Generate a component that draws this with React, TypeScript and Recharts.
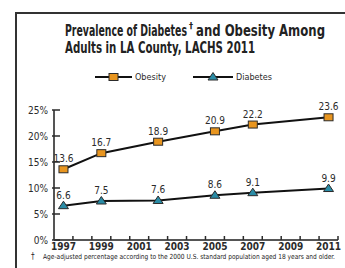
import React from "react";
import { LineChart, Line, XAxis, YAxis, LabelList, Legend } from "recharts";

const years = [1997, 1999, 2002, 2005, 2007, 2011];
const obesity = [13.6, 16.7, 18.9, 20.9, 22.2, 23.6];
const diabetes = [6.6, 7.5, 7.6, 8.6, 9.1, 9.9];
const yearLabels = [1997, 1999, 2001, 2003, 2005, 2007, 2009, 2011];
const yTicks = [0, 5, 10, 15, 20, 25];

const data = years.map((year, i) => ({ year, obesity: obesity[i], diabetes: diabetes[i] }));

// small inner tick marks sit between the years
const boundaries = Array.from({ length: 2011 - 1997 + 1 }, (_, i) => 1997.5 + i);
const xTicks = [...yearLabels, ...boundaries].sort((a, b) => a - b);

const FONT = "'Liberation Sans Narrow', 'DejaVu Sans Condensed', 'Arial Narrow', sans-serif";
const INK = "#2b2b2b";
const ORANGE = "#E8951F";
const TEAL = "#2A8CA6";

const XTick = (props: any) => {
  const { x, y, payload } = props;
  const v = payload.value;
  if (v % 1 !== 0) {
    return <line x1={x} x2={x} y1={y} y2={y - 4} stroke={INK} strokeWidth={1.5} />;
  }
  return (
    <text x={x} y={y + 10} textAnchor="middle" fontSize={10} fontFamily={FONT} fontWeight="bold" fill={INK}>
      {v}
    </text>
  );
};

const YTick = (props: any) => {
  const { x, y, payload } = props;
  return (
    <g>
      <line x1={x - 2} x2={x + 6} y1={y} y2={y} stroke={INK} strokeWidth={1.5} />
      <text x={x - 6} y={y + 3.5} textAnchor="end" fontSize={10} fontFamily={FONT} fill={INK}>
        {payload.value}%
      </text>
    </g>
  );
};

const SquareDot = (props: any) => {
  const { cx, cy } = props;
  return <rect x={cx - 4.5} y={cy - 3.5} width={9} height={7} fill={ORANGE} stroke={INK} strokeWidth={1} />;
};

const TriDot = (props: any) => {
  const { cx, cy } = props;
  return (
    <path d={`M${cx},${cy - 4.5} L${cx + 5},${cy + 3} L${cx - 5},${cy + 3} Z`} fill={TEAL} stroke={INK} strokeWidth={1} />
  );
};

const LegendBox = () => (
  <svg width={200} height={14}>
    <line x1={0} x2={37} y1={7} y2={7} stroke="#111" strokeWidth={2} />
    <rect x={14} y={3.5} width={9} height={7} fill={ORANGE} stroke={INK} />
    <text x={40} y={10} fontSize={9} fontFamily={FONT} fill={INK}>Obesity</text>
    <line x1={98} x2={138} y1={7} y2={7} stroke="#111" strokeWidth={2} />
    <path d="M118,2.5 L123,10 L113,10 Z" fill={TEAL} stroke={INK} />
    <text x={141} y={10} fontSize={9} fontFamily={FONT} fill={INK}>Diabetes</text>
  </svg>
);

export default function App() {
  return (
    <div style={{ position: "absolute", left: 0, top: 0, width: 345, height: 268, background: "#fff", overflow: "hidden" }}>
      <div
        style={{
          position: "absolute",
          left: 15,
          top: 12,
          width: 340,
          height: 270,
          borderLeft: "2px solid #333",
          borderTop: "2px solid #333",
        }}
      />
      <svg style={{ position: "absolute", left: 0, top: 0 }} width={345} height={62}>
        <text x={65} y={36} fontSize={16} fontWeight="bold" fontFamily={FONT} fill="#222" textLength={122} lengthAdjust="spacingAndGlyphs">
          Prevalence of Diabetes
        </text>
        <text x={189} y={29} fontSize={9} fontWeight="bold" fontFamily={FONT} fill="#222">†</text>
        <text x={196} y={36} fontSize={16} fontWeight="bold" fontFamily={FONT} fill="#222" textLength={129} lengthAdjust="spacingAndGlyphs">
          and Obesity Among
        </text>
        <text x={65} y={53} fontSize={16} fontWeight="bold" fontFamily={FONT} fill="#222" textLength={190} lengthAdjust="spacingAndGlyphs">
          Adults in LA County, LACHS 2011
        </text>
      </svg>
      <div style={{ position: "absolute", left: 0, top: 0 }}>
        <LineChart width={345} height={268} data={data} margin={{ top: 92, right: 7, bottom: 0, left: 0 }}>
          <XAxis
            dataKey="year"
            type="number"
            domain={[1996.5, 2011.5]}
            ticks={xTicks}
            interval={0}
            tick={<XTick />}
            tickLine={false}
            tickSize={0}
            tickMargin={0}
            height={28}
            axisLine={{ stroke: "#555", strokeWidth: 2 }}
          />
          <YAxis
            type="number"
            domain={[0, 25]}
            ticks={yTicks}
            interval={0}
            tick={<YTick />}
            tickLine={false}
            tickSize={0}
            tickMargin={0}
            width={54}
            axisLine={{ stroke: "#555", strokeWidth: 2 }}
          />
          <Legend
            verticalAlign="top"
            content={<LegendBox />}
            wrapperStyle={{ position: "absolute", left: 95, top: 70, width: 200 }}
          />
          <Line
            dataKey="obesity"
            name="Obesity"
            stroke="#111"
            strokeWidth={2}
            dot={<SquareDot />}
            isAnimationActive={false}
          >
            <LabelList dataKey="obesity" position="top" offset={7} fontSize={10} fontFamily={FONT} fill={INK} />
          </Line>
          <Line
            dataKey="diabetes"
            name="Diabetes"
            stroke="#111"
            strokeWidth={2}
            dot={<TriDot />}
            isAnimationActive={false}
          >
            <LabelList dataKey="diabetes" position="top" offset={7} fontSize={10} fontFamily={FONT} fill={INK} />
          </Line>
        </LineChart>
      </div>
      <svg style={{ position: "absolute", left: 0, top: 246 }} width={345} height={22}>
        <text x={31} y={13} fontSize={8} fontFamily={FONT} fill="#222">†</text>
        <text x={43} y={13} fontSize={7} fontFamily={FONT} fill="#222" textLength={292} lengthAdjust="spacingAndGlyphs">
          Age-adjusted percentage according to the 2000 U.S. standard population aged 18 years and older.
        </text>
      </svg>
    </div>
  );
}
